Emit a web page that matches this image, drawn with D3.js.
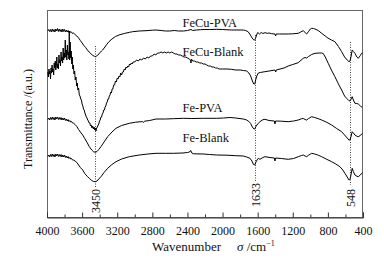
<!DOCTYPE html>
<html><head><meta charset="utf-8">
<script src="https://cdn.jsdelivr.net/npm/d3@7/dist/d3.min.js"></script>
<style>body{margin:0;background:#fff}svg{display:block}text{font-family:"Liberation Serif","Times New Roman",serif;fill:#111}</style>
</head><body>
<svg id="c" width="384" height="261"></svg>
<script>
// ---- data (wavenumber cm^-1, transmittance a.u.) ----
const seriesNames = ["FeCu-PVA", "FeCu-Blank", "Fe-PVA", "Fe-Blank"];

const feCuPVA = [[3990,187],[3980,188.5],[3970,186.5],[3960,188.5],[3950,186],[3940,189],[3930,186.5],[3920,188.5],[3910,186],[3900,189],[3890,187],[3880,189.5],[3870,186.5],[3860,189],[3850,186.5],[3840,188.5],[3830,186],[3820,189],[3810,186.5],[3800,188.5],[3790,186],[3780,188],[3770,186],[3760,187.5],[3750,185.5],[3740,187],[3730,185.5],[3720,186],[3710,184.5],[3700,185],[3680,183.5],[3660,182],[3640,180],[3620,177.5],[3600,175],[3580,172.5],[3560,170.5],[3540,168],[3520,166],[3500,164.3],[3480,162.7],[3460,161.7],[3450,161.3],[3440,161.7],[3420,163],[3400,165],[3380,167],[3366,168],[3340,171],[3320,173.5],[3294,176.3],[3260,179],[3220,181.5],[3180,183],[3120,184.5],[3060,185.7],[3024,186.3],[2950,187],[2872,187.3],[2800,187.8],[2758,188],[2700,187.5],[2650,187],[2600,187],[2550,187.5],[2500,187],[2448,187],[2400,187.5],[2360,188.5],[2340,187.5],[2300,188],[2250,188.3],[2200,188.5],[2150,188.5],[2067,188.7],[2000,188.5],[1900,188],[1800,188],[1764,188],[1740,187.5],[1711,186.5],[1690,184],[1670,181],[1650,178.5],[1640,178],[1633,178],[1625,179.5],[1612,183],[1600,185.5],[1593,185],[1580,184],[1560,185.5],[1540,184.5],[1517,185.3],[1490,184.7],[1470,185],[1440,184.3],[1403,184],[1396,182],[1390,184],[1350,184],[1300,184],[1252,184],[1200,184.2],[1138,184.7],[1110,186],[1081,187.3],[1060,185.5],[1042,184],[1020,186.5],[1000,189],[985,189.7],[965,189.5],[947,189],[910,187.5],[871,184.7],[830,182],[800,180],[760,178],[720,176.3],[680,171.5],[643,166.3],[610,161],[580,158],[560,156.3],[548,157],[535,162],[523,168],[510,166.5],[492,164.7],[470,161],[454,159.7],[430,162.5],[416,164.7],[405,165]];

const feCuBlank = [[3990,146],[3984,141],[3978,149],[3972,144],[3966,147],[3960,139],[3954,150],[3948,145],[3942,153],[3936,146],[3930,149],[3924,143],[3918,155],[3912,150],[3906,157],[3900,148],[3894,152],[3888,161],[3882,150],[3876,154],[3870,149],[3864,163],[3858,155],[3852,158],[3846,152],[3840,166],[3834,157],[3828,161],[3822,155],[3816,170],[3810,158],[3804,165],[3798,160],[3792,178],[3786,161],[3780,168],[3774,158],[3768,173],[3762,163],[3756,166],[3750,159],[3746,186],[3742,158],[3736,176],[3730,160],[3724,167],[3718,154],[3712,161],[3706,149],[3700,153],[3692,144],[3685,147],[3678,138],[3670,141],[3662,132],[3655,135],[3648,128],[3640,130],[3632,123],[3624,122],[3616,119],[3608,118],[3600,114],[3592,112],[3584,109],[3576,108],[3568,105],[3560,103],[3552,101],[3544,100],[3536,98],[3528,97],[3520,95],[3512,95],[3504,92],[3496,93],[3488,90],[3480,92],[3472,89],[3464,91],[3456,88],[3450,90],[3442,87],[3434,90],[3426,91],[3418,93],[3410,94],[3402,97],[3394,98],[3386,101],[3378,101],[3370,104],[3362,105],[3354,108],[3346,108],[3338,111],[3330,112],[3322,115],[3314,116],[3306,119],[3298,119],[3290,122],[3282,123],[3274,126],[3266,125],[3258,129],[3250,129],[3240,133],[3230,133],[3220,137],[3210,136],[3200,140],[3190,139],[3180,142],[3170,141],[3160,145],[3150,143],[3140,146],[3130,146],[3120,149],[3110,148],[3100,151],[3090,150],[3080,152],[3070,151],[3060,154],[3050,153],[3040,155],[3030,154],[3020,156],[3000,156],[2980,158],[2960,157],[2940,159],[2920,158],[2900,160],[2880,159],[2860,161],[2840,160],[2820,162],[2800,162],[2780,164],[2760,163],[2740,165],[2720,165],[2700,166],[2680,165],[2660,166],[2640,165],[2620,166],[2600,165],[2580,166],[2560,165],[2540,164],[2520,164],[2500,163],[2480,163],[2460,162],[2440,161],[2420,161],[2400,160],[2380,159],[2365,158],[2360,155],[2355,159],[2340,157],[2320,157],[2300,156],[2280,156],[2260,155],[2240,155],[2220,154],[2200,154],[2180,153],[2160,152],[2140,152],[2120,151],[2100,151],[2080,150],[2060,150],[2040,149],[2020,149],[2000,149],[1950,149],[1900,148.7],[1850,148],[1800,148],[1760,147.5],[1725,147],[1700,145],[1680,142],[1660,137],[1645,134],[1633,134],[1620,139],[1610,142],[1593,145],[1570,145.5],[1540,146],[1517,146.3],[1470,147],[1403,148],[1395,146],[1388,148],[1300,150],[1252,152],[1200,153.5],[1138,155.3],[1081,159.7],[1060,160.5],[1042,160],[1020,161.5],[985,163.5],[947,164.7],[900,165],[871,165],[853,164.5],[830,161],[796,154.7],[760,148],[720,141.3],[680,134],[643,128],[610,122],[587,119.7],[560,117.3],[548,117],[535,119],[523,121.3],[510,118],[492,114.7],[470,114.5],[454,114],[430,112],[410,110.7]];

const fePVA = [[3990,98.5],[3980,100],[3970,98],[3960,100.5],[3950,98.5],[3940,101],[3930,98.5],[3920,100.5],[3910,98],[3900,101],[3890,99],[3880,101],[3870,98.5],[3860,100.5],[3850,98.5],[3840,100.5],[3830,98],[3820,100],[3810,98],[3800,100],[3790,97.5],[3780,99],[3770,97],[3760,98.5],[3750,96.5],[3740,97.5],[3730,96],[3720,96.5],[3710,95],[3700,95],[3680,93.5],[3660,91.5],[3640,88.5],[3620,86],[3593,83],[3570,79.5],[3540,75],[3518,71.3],[3490,68],[3470,66.3],[3450,65.7],[3430,66.5],[3410,68.5],[3385,71.3],[3350,76],[3309,81.3],[3260,86],[3214,89.7],[3150,92.5],[3063,94.7],[2990,95.8],[2930,96.3],[2910,96.3],[2900,95.5],[2890,96.8],[2830,97.5],[2758,99],[2650,99],[2561,99.3],[2448,99.7],[2350,99.5],[2220,99.7],[2067,99.7],[1990,100],[1916,100.5],[1850,100],[1764,99],[1725,98],[1700,96.5],[1680,94.5],[1660,91],[1642,89],[1633,89],[1620,91.5],[1600,94],[1593,94.7],[1574,96.3],[1540,98.3],[1517,98.7],[1470,97.5],[1410,97],[1403,94],[1396,97],[1330,96.8],[1252,96.3],[1190,97],[1138,98],[1100,99.3],[1081,99.5],[1060,98.5],[1042,98],[1020,99.5],[985,101.3],[950,100.5],[910,99.3],[871,98],[820,96],[757,93],[700,89.5],[643,86.3],[600,82],[570,79],[560,78],[548,78],[535,82],[523,86.3],[510,85],[492,83],[470,81.8],[454,81.3],[430,82.5],[416,84],[405,84.5]];

const feBlank = [[3990,61.5],[3980,63],[3970,61],[3960,63.5],[3950,61.5],[3940,64],[3930,61.5],[3920,63.5],[3910,61],[3900,64],[3890,62],[3880,64],[3870,61.5],[3860,63.5],[3850,61.5],[3840,63.5],[3830,61],[3820,63],[3810,61],[3800,63],[3790,60.5],[3780,62],[3770,60],[3760,61.5],[3750,59.5],[3740,60.5],[3730,59],[3720,59.5],[3710,58],[3700,58],[3680,57],[3660,55.5],[3640,53],[3620,50.5],[3593,48],[3570,44.5],[3540,41.5],[3518,39.7],[3490,37.5],[3470,36.5],[3450,36.3],[3430,37],[3410,39],[3385,41.3],[3350,45.5],[3309,49.7],[3260,53.5],[3214,56.3],[3150,59],[3063,61.3],[2950,63],[2850,64],[2758,64.7],[2650,64.7],[2561,64.7],[2450,65],[2400,65.5],[2375,66],[2363,67.5],[2350,65],[2330,64.2],[2220,64],[2150,63.5],[2067,63],[1950,62.8],[1850,62.3],[1764,62],[1725,61],[1688,59.7],[1665,57],[1648,53.5],[1633,53],[1620,56],[1600,59],[1593,59.7],[1574,58.7],[1540,60.5],[1517,61.3],[1460,60.5],[1410,60],[1403,57],[1396,60],[1330,59.5],[1252,58.7],[1190,59.5],[1138,61.3],[1100,62.5],[1081,63],[1060,62],[1042,61.3],[1020,62.8],[985,64.7],[950,64],[910,62.8],[871,61.3],[820,59],[757,56.3],[710,54],[663,51.3],[630,48],[606,44.7],[580,41],[560,38],[548,38.5],[535,44],[523,49.7],[510,46.5],[492,43],[470,41.8],[454,41.3],[430,43],[416,44.7],[405,45.5]];

const peakPositions = [3450, 1633, 548];
const peakLabels = ["3450", "1633", "548"];
const xTickValues = [4000, 3600, 3200, 2800, 2400, 2000, 1600, 1200, 800, 400];
const xMinorTicks = [3800, 3400, 3000, 2600, 2200, 1800, 1400, 1000, 600];

// ---- layout ----
const svg = d3.select("#c");
const L = 47, R = 363, T = 10, B = 218;
const x = d3.scaleLinear().domain([4000, 400]).range([L, R]);
const y = d3.scaleLinear().domain([0, 208]).range([B, T]);

const allSeries = [feCuPVA, feCuBlank, fePVA, feBlank];
const labelPos = [[182.5, 27], [182.5, 55.5], [182.5, 112], [182.5, 142]];

// frame
svg.append("rect").attr("x", L + 0.5).attr("y", T + 0.5).attr("width", R - L - 1).attr("height", B - T - 1)
  .attr("fill", "none").attr("stroke", "#666").attr("stroke-width", 1);

// x axis (ticks inward)
const ax = svg.append("g").attr("transform", `translate(0,${B - 0.5})`)
  .call(d3.axisBottom(x).tickValues(xTickValues).tickSize(-5).tickPadding(9).tickFormat(d3.format("d")));
ax.select(".domain").attr("stroke", "#333");
ax.selectAll(".tick line").attr("stroke", "#333");
ax.selectAll(".tick text").attr("font-size", 12).attr("font-family", "Liberation Serif").attr("fill", "#111");
const ax2 = svg.append("g").attr("transform", `translate(0,${B - 0.5})`)
  .call(d3.axisBottom(x).tickValues(xMinorTicks).tickSize(-3).tickFormat(""));
ax2.select(".domain").remove();
ax2.selectAll(".tick line").attr("stroke", "#333");

// peak guide lines
const guideTop = [172, 183, 176], guideBot = [31, 37, 33], labelBase = [5, 11, 11];
peakPositions.forEach((p, i) => {
  const px = Math.round(x(p)) + 0.5;
  svg.append("line").attr("x1", px).attr("x2", px).attr("y1", y(guideTop[i])).attr("y2", y(guideBot[i]))
    .attr("stroke", "#444").attr("stroke-width", 1).attr("stroke-dasharray", "1,1.5");
  svg.append("text").attr("transform", `translate(${px},${y(labelBase[i])}) rotate(-90)`)
    .attr("dy", "0.35em").attr("font-size", 12).text(peakLabels[i]);
});

// curves
const line = d3.line().x(d => x(d[0])).y(d => y(d[1]));
allSeries.forEach((s, i) => {
  svg.append("path").datum(s).attr("d", line).attr("fill", "none")
    .attr("stroke", "#000").attr("stroke-width", 1).attr("stroke-linejoin", "round");
  svg.append("text").attr("x", labelPos[i][0]).attr("y", labelPos[i][1])
    .attr("font-size", 12.5).text(seriesNames[i]);
});

// axis titles
const xt = svg.append("text").attr("x", 152).attr("y", 251).attr("font-size", 13);
xt.append("tspan").text("Wavenumber");
xt.append("tspan").attr("x", 237).attr("font-style", "italic").text("σ");
xt.append("tspan").text(" /cm");
xt.append("tspan").attr("dy", -5).attr("font-size", 8).text("−1");

svg.append("text").attr("transform", "translate(32,119) rotate(-90)").attr("text-anchor", "middle")
  .attr("font-size", 12).text("Transmittance /(a.u.)");
</script>
</body></html>
